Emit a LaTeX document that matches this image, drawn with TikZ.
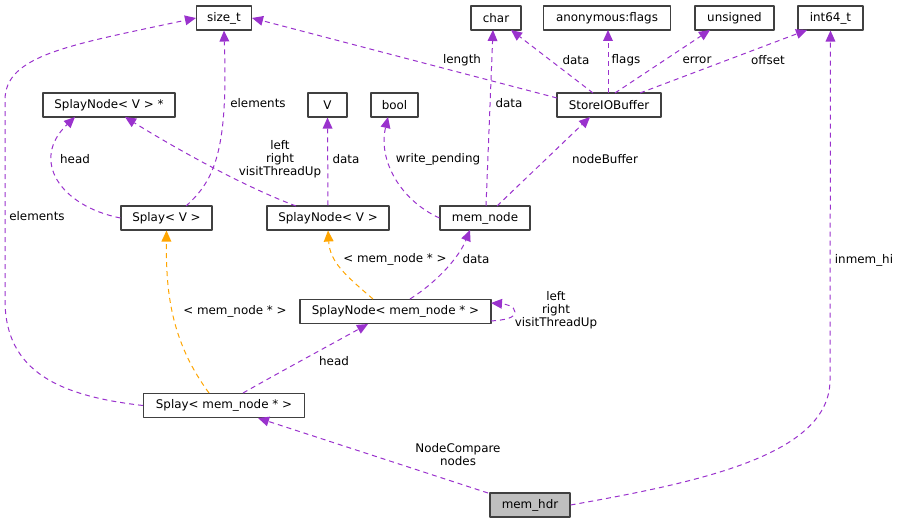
\documentclass[tikz,border=0pt]{standalone}
\usepackage{fontspec}
\setmainfont{DejaVu Sans}
\usetikzlibrary{arrows.meta}
\definecolor{edgepurple}{HTML}{9A32CD}
\definecolor{edgeorange}{HTML}{FFA500}
\definecolor{boxline}{HTML}{404040}
\tikzset{
  cls/.style={draw=boxline,line width=1.1pt,fill=white,minimum height=24pt,inner sep=0pt,
    font=\fontsize{11.9}{13}\selectfont},
  lbl/.style={inner sep=0pt,align=center,font=\fontsize{11.9}{13}\selectfont},
  member/.style={draw=edgepurple,line width=1pt,dash pattern=on 5pt off 4pt,
    -{Triangle[length=11pt,width=10pt,fill=edgepurple,line width=0pt]}},
  tmpl/.style={draw=edgeorange,line width=1pt,dash pattern=on 5pt off 4pt,
    -{Triangle[length=11pt,width=10pt,fill=edgeorange,line width=0pt]}},
}
\begin{document}
\begin{tikzpicture}[x=1pt,y=-1pt,line join=round]
  % Match the artwork frame of the diagram.
  \useasboundingbox (0,0) rectangle (900,524);

  % Top row of types.
  \node[cls,minimum width=55pt] (sizet) at (224,18) {size\_t};
  \node[cls,minimum width=50pt] (chr) at (496,18) {char};
  \node[cls,minimum width=127pt] (flags) at (607,18) {anonymous:flags};
  \node[cls,minimum width=79pt] (unsgn) at (734.5,18) {unsigned};
  \node[cls,minimum width=65pt] (int64) at (830.5,18) {int64\_t};

  % Second row.
  \node[cls,minimum width=132pt] (snvptr) at (109,105) {SplayNode< V > *};
  \node[cls,minimum width=39pt] (vv) at (327.5,105) {V};
  \node[cls,minimum width=47pt] (bool) at (394.5,105) {bool};
  \node[cls,minimum width=104pt] (storebuf) at (609,105) {StoreIOBuffer};

  % Third row.
  \node[cls,minimum width=91pt] (splayv) at (166.5,218) {Splay< V >};
  \node[cls,minimum width=122pt] (snv) at (328,218) {SplayNode< V >};
  \node[cls,minimum width=90pt] (memnode) at (485,218) {mem\_node};

  % Instantiations and the root class.
  \node[cls,minimum width=191pt] (snmem) at (395.5,311.5) {SplayNode< mem\_node * >};
  \node[cls,minimum width=161pt] (splaymem) at (224,405.5) {Splay< mem\_node * >};
  \node[cls,minimum width=80pt,fill=black!25] (memhdr) at (530,505) {mem\_hdr};

  % Member edges around the top.
  \draw[member] (splaymem.west) .. controls (60,396) and (5,372) .. (5,300)
    -- (5,100) .. controls (5,55) and (70,45) .. (sizet.west);
  \node[lbl] (l1) at (37,216) {elements};
  \draw[member] (186,206) .. controls (215,180) and (228,150) .. (sizet.south);
  \node[lbl] (l2) at (258,103) {elements};
  \draw[member] (splayv.west) .. controls (60,206) and (30,160) .. (75,117);
  \node[lbl] (l3) at (75,159) {head};
  \draw[member] (296,206) .. controls (240,185) and (170,145) .. (125,117);
  \node[lbl] (l4) at (280,159) {left\\right\\visitThreadUp};
  \draw[member] (snv.north) -- (vv.south);
  \node[lbl] (l5) at (346,159) {data};
  \draw[member] (memnode.west) .. controls (400,200) and (378,160) .. (388,117);
  \node[lbl] (l6) at (438,159) {write\_pending};
  \draw[member] (486,206) -- (493,30);
  \node[lbl] (l7) at (509,103) {data};
  \draw[member] (497,206) -- (590,117);
  \node[lbl] (l8) at (605,159) {nodeBuffer};

  % StoreIOBuffer fields.
  \draw[member] (557,98) -- (sizet.east);
  \node[lbl] (l9) at (462,60) {length};
  \draw[member] (593,93) -- (511,30);
  \node[lbl] (l10) at (576,60) {data};
  \draw[member] (608,93) -- (608,30);
  \node[lbl] (l11) at (626,60) {flags};
  \draw[member] (615,93) -- (710,30);
  \node[lbl] (l12) at (697,60) {error};
  \draw[member] (640,93) -- (807,30);
  \node[lbl] (l13) at (768,60) {offset};

  % Lower part of the graph.
  \draw[member] (memhdr.east) .. controls (700,482) and (830,455) .. (830,380) -- (int64.south);
  \node[lbl] (l14) at (864,260) {inmem\_hi};
  \draw[member] (488,493) -- (258,418);
  \node[lbl] (l15) at (458,455) {NodeCompare\\nodes};
  \draw[tmpl] (373,299) .. controls (345,275) and (330,262) .. (snv.south);
  \node[lbl] (l16) at (395,259) {< mem\_node * >};
  \draw[member] (410,299) .. controls (440,280) and (460,255) .. (470,230);
  \node[lbl] (l17) at (476,259) {data};
  \draw[member] (491,321) .. controls (505,320) and (515,318) .. (515,312)
    .. controls (515,306) and (505,304) .. (491,303);
  \node[lbl] (l18) at (556,310) {left\\right\\visitThreadUp};
  \draw[member] (243,393) .. controls (280,372) and (330,345) .. (368,324);
  \node[lbl] (l19) at (334,361) {head};
  \draw[tmpl] (209,393) .. controls (170,340) and (166,290) .. (splayv.south);
  \node[lbl] (l20) at (235,311) {< mem\_node * >};
\end{tikzpicture}
\end{document}
